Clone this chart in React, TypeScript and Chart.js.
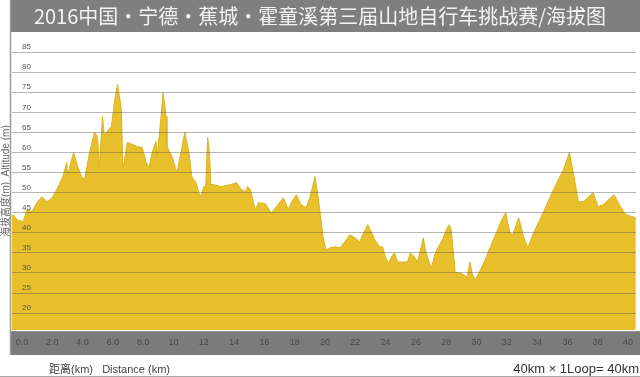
import React, { useEffect, useRef } from 'react';
import { Chart, registerables } from 'chart.js';

Chart.register(...registerables);

const TITLE = '2016中国・宁德・蕉城・霍童溪第三届山地自行车挑战赛/海拔图';
const Y_TITLE = '海拔高度(m)  Altitude (m)';
const X_TITLE = '距离(km)   Distance (km)';
const LOOP_NOTE = '40km × 1Loop= 40km';

const distanceKm = [
  -0.66, -0.59, -0.33, 0.07, 0.33, 0.66, 0.98, 1.31, 1.64, 1.84, 2.03, 2.36, 2.69, 2.95, 3.02, 3.15,
  3.41, 3.67, 3.93, 4.13, 4.46, 4.79, 4.98, 5.11, 5.31, 5.44, 5.57, 5.9, 6.1, 6.3, 6.56, 6.66, 6.95,
  7.61, 7.93, 8.2, 8.39, 8.59, 8.85, 8.92, 9.18, 9.31, 9.51, 9.57, 9.9, 10.16, 10.23, 10.49, 10.75,
  11.02, 11.21, 11.48, 11.67, 11.8, 12.0, 12.13, 12.2, 12.26, 12.39, 12.46, 12.66, 13.11, 13.77,
  14.16, 14.49, 14.75, 14.89, 15.08, 15.28, 15.41, 15.61, 16.07, 16.39, 16.46, 16.79, 17.25, 17.57,
  17.77, 18.1, 18.43, 18.75, 19.02, 19.34, 19.54, 19.67, 19.87, 20.07, 20.33, 20.66, 20.98, 21.31,
  21.64, 21.97, 22.3, 22.49, 22.82, 23.15, 23.28, 23.61, 23.8, 24.0, 24.2, 24.46, 24.59, 24.79,
  25.11, 25.44, 25.64, 25.9, 26.1, 26.3, 26.49, 26.62, 26.89, 27.02, 27.28, 27.74, 28.07, 28.2,
  28.33, 28.52, 28.59, 28.79, 28.92, 29.18, 29.38, 29.57, 29.7, 29.9, 30.16, 30.56, 31.02, 31.48,
  31.67, 31.93, 32.2, 32.39, 32.79, 33.11, 33.38, 33.77, 34.43, 35.08, 35.74, 36.13, 36.39, 36.72,
  37.05, 37.7, 38.03, 38.36, 39.08, 39.54, 39.87, 40.52,
];

const altitudeM = [
  44, 44.5, 43.25, 42.75, 45.75, 45.25, 47.5, 49, 47.75, 48.25, 49, 51.25, 54, 57.5, 54, 56.5,
  60, 56.5, 54, 53.25, 60, 65, 64, 56.5, 69, 64, 65, 66.5, 72.5, 77, 70.75, 55.75, 62.5,
  61.5, 61.25, 57.5, 56.25, 60, 62.75, 59, 69, 75, 69, 61.5, 59, 55.75, 55, 60, 65,
  60, 54, 52.5, 50, 49, 51.5, 51.5, 59, 63.75, 59, 52, 52, 51.5, 52,
  52.5, 50.75, 50.25, 51.5, 50.75, 47.5, 45.75, 47.5, 47.25, 45.25, 45, 46.5, 48.75, 45.75,
  47.5, 49.5, 47, 46.25, 49, 54, 49, 45.25, 39, 35.75, 36.25, 36.5, 36.25, 37.75,
  39.5, 38.75, 37.75, 39.5, 42, 39.5, 38.25, 36.5, 36.5, 33.75, 32.5, 34.5, 35, 32.75,
  32.75, 32.75, 35, 34, 32.75, 35.75, 38.75, 35.75, 32.5, 31.25, 35, 38.25, 41.25, 42,
  40.75, 33.25, 30.25, 30, 30, 29.5, 29, 32.75, 30, 28.25, 30, 33.25, 37.5, 41.5,
  43.25, 45, 40, 39.5, 43.75, 39, 36.25, 40, 45.25, 50.75, 55.75, 60, 55, 47.75,
  47.75, 50, 46.5, 47, 49.5, 46.25, 44.5, 43.75,
];

const xTickValues = [0, 2, 4, 6, 8, 10, 12, 14, 16, 18, 20, 22, 24, 26, 28, 30, 32, 34, 36, 38, 40];
const yTickValues = [20, 25, 30, 35, 40, 45, 50, 55, 60, 65, 70, 75, 80, 85];

const SANS = "'Liberation Sans', 'Noto Sans CJK SC', Arial, sans-serif";
const CJK = "'Noto Sans CJK SC', 'Liberation Sans', sans-serif";

export default function App() {
  const ref = useRef<HTMLCanvasElement>(null);

  useEffect(() => {
    const canvas = ref.current;
    if (!canvas) return;

    const decor = {
      id: 'decor',
      beforeDraw(chart: any) {
        const { ctx, chartArea, scales } = chart;
        ctx.save();
        ctx.fillStyle = '#ffffff';
        ctx.fillRect(0, 0, chart.width, chart.height);
        ctx.fillStyle = '#7f7f7f';
        ctx.fillRect(10, 0, chart.width - 10, chartArea.top);
        ctx.fillStyle = '#7b7b7b';
        ctx.fillRect(11, chartArea.bottom + 1, chart.width - 11, scales.x.bottom - chartArea.bottom - 1);
        ctx.restore();
      },
      afterDraw(chart: any) {
        const { ctx, scales } = chart;
        ctx.save();
        ctx.strokeStyle = '#9a9a9a';
        ctx.lineWidth = 1.5;
        ctx.beginPath();
        ctx.moveTo(10.5, 0);
        ctx.lineTo(10.5, scales.x.bottom);
        ctx.stroke();
        ctx.strokeStyle = '#a8a8a8';
        ctx.lineWidth = 1;
        ctx.beginPath();
        ctx.moveTo(0, chart.height - 0.5);
        ctx.lineTo(chart.width, chart.height - 0.5);
        ctx.stroke();
        ctx.textBaseline = 'middle';
        ctx.fillStyle = '#444444';
        ctx.font = `11px ${SANS}`;
        ctx.textAlign = 'left';
        ctx.fillText(X_TITLE, 49, 370);
        ctx.fillStyle = '#333333';
        ctx.font = `13px ${SANS}`;
        ctx.textAlign = 'right';
        ctx.fillText(LOOP_NOTE, 639, 369);
        ctx.restore();
      },
    };

    const points = distanceKm.map((d, i) => ({ x: d, y: altitudeM[i] }));

    const chart = new Chart(canvas, {
      type: 'line',
      data: {
        datasets: [
          {
            data: points,
            parsing: false as any,
            fill: 'start',
            backgroundColor: '#e8c02b',
            borderColor: '#dbb323',
            borderWidth: 1,
            pointRadius: 0,
            tension: 0,
          },
        ],
      },
      options: {
        responsive: false,
        animation: false,
        layout: { padding: { left: 0, right: 0, top: 0, bottom: 22 } },
        plugins: {
          legend: { display: false },
          tooltip: { enabled: false },
          title: {
            display: true,
            text: TITLE,
            color: '#f3f3f3',
            font: { family: CJK, size: 20, weight: 'normal', lineHeight: 1.2 },
            padding: { top: 4, bottom: 4 },
          },
        },
        scales: {
          x: {
            type: 'linear',
            min: -0.66,
            max: 40.52,
            afterBuildTicks: (axis: any) => {
              axis.ticks = xTickValues.map((v) => ({ value: v }));
            },
            grid: { display: false, drawTicks: false },
            border: { display: false },
            ticks: {
              autoSkip: false,
              maxRotation: 0,
              padding: 7,
              color: '#484848',
              font: { family: SANS, size: 9 },
              callback: (v: any) => (Number(v) < 10 ? Number(v).toFixed(1) : String(v)),
            },
          },
          y: {
            type: 'linear',
            min: 15.75,
            max: 90,
            afterBuildTicks: (axis: any) => {
              axis.ticks = yTickValues.map((v) => ({ value: v }));
            },
            afterFit: (scale: any) => {
              scale.width = 12;
            },
            grid: { color: 'rgba(80,80,80,0.42)', lineWidth: 1, drawTicks: false, z: 1 },
            border: { display: false },
            title: {
              display: true,
              text: Y_TITLE,
              color: '#666666',
              font: { family: SANS, size: 10 },
              padding: 0,
            },
            ticks: {
              z: 2,
              mirror: true,
              padding: 10,
              labelOffset: -5,
              color: '#555555',
              font: { family: SANS, size: 8 },
            },
          },
        },
      },
      plugins: [decor],
    } as any);

    return () => chart.destroy();
  }, []);

  return (
    <div style={{ position: 'absolute', left: 0, top: 0, width: 640, height: 377 }}>
      <canvas ref={ref} width={640} height={377} />
    </div>
  );
}
